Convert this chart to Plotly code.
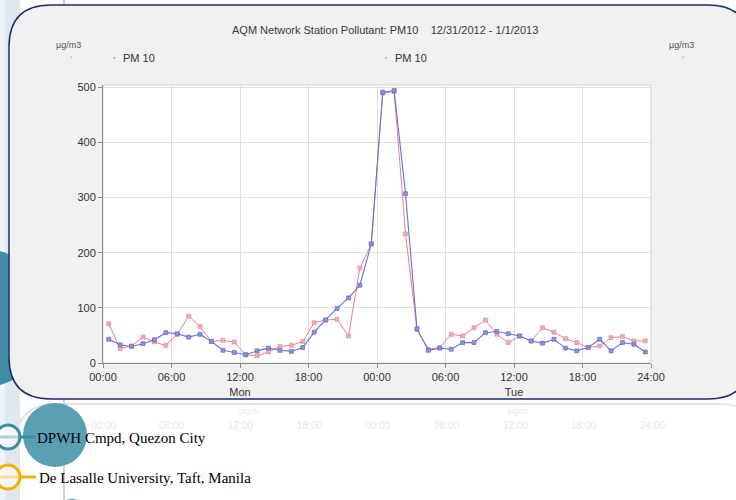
import plotly.graph_objects as go
import pandas as pd

# ---------------- data ----------------
times = pd.date_range("2012-12-31 00:30", periods=48, freq="h")

pm10_station_a = [43, 33, 30, 35, 42, 55, 53, 47, 52, 39, 23, 19, 15, 22, 27, 23,
                  21, 28, 56, 78, 99, 118, 141, 216, 491, 494, 307, 62, 23, 27, 25, 37,
                  37, 55, 57, 53, 49, 40, 36, 43, 27, 22, 28, 43, 22, 37, 34, 20]
pm10_station_b = [71, 26, 31, 47, 38, 32, 52, 85, 66, 39, 41, 38, 15, 13, 20, 30,
                  32, 39, 73, 78, 79, 49, 172, 216, 489, 492, 234, 61, 25, 28, 52, 49,
                  64, 78, 52, 37, 49, 40, 64, 56, 44, 37, 28, 31, 46, 48, 40, 40]

tick_vals = pd.date_range("2012-12-31 00:00", periods=9, freq="6h")
tick_text = ["00:00", "06:00", "12:00<br>Mon", "18:00", "00:00",
             "06:00", "12:00<br>Tue", "18:00", "24:00"]
y_ticks = [0, 100, 200, 300, 400, 500]

title_text = "AQM Network Station Pollutant: PM10    12/31/2012 - 1/1/2013"
unit_text = "µg/m3"
series_name = "PM 10"
site_labels = ["DPWH Cmpd, Quezon City", "De Lasalle University, Taft, Manila"]

# ---------------- geometry helpers ----------------
W, H = 736, 500
L, R, T, B = 103, 85, 85, 137
PW, PH = W - L - R, H - T - B


def px(x):
    return (x - L) / PW


def py(y):
    return (H - B - y) / PH


def pt(x, y):
    return f"{px(x):.5f},{py(y):.5f}"


def rrect(x0, y0, x1, y1, rad):
    return (f"M {pt(x0 + rad, y0)} L {pt(x1 - rad, y0)} Q {pt(x1, y0)} {pt(x1, y0 + rad)} "
            f"L {pt(x1, y1 - rad)} Q {pt(x1, y1)} {pt(x1 - rad, y1)} "
            f"L {pt(x0 + rad, y1)} Q {pt(x0, y1)} {pt(x0, y1 - rad)} "
            f"L {pt(x0, y0 + rad)} Q {pt(x0, y0)} {pt(x0 + rad, y0)} Z")


def prect(x0, y0, x1, y1, **kw):
    return dict(type="rect", xref="paper", yref="paper", layer="below",
                x0=px(x0), x1=px(x1), y0=py(y1), y1=py(y0), **kw)


def pcirc(cx, cy, rx, ry, **kw):
    return dict(type="circle", xref="paper", yref="paper", layer="below",
                x0=px(cx - rx), x1=px(cx + rx), y0=py(cy + ry), y1=py(cy - ry), **kw)


def pline(x0, y0, x1, y1, **kw):
    return dict(type="line", xref="paper", yref="paper", layer="below",
                x0=px(x0), x1=px(x1), y0=py(y0), y1=py(y1), **kw)


# ---------------- figure ----------------
fig = go.Figure()

fig.add_trace(go.Scatter(
    x=times, y=pm10_station_b, mode="lines+markers", name=series_name,
    line=dict(color="#ec7f8a", width=1),
    marker=dict(symbol="square", size=4, color="#f3a9b0",
                line=dict(color="#e58a94", width=0.6)),
    showlegend=False))
fig.add_trace(go.Scatter(
    x=times, y=pm10_station_a, mode="lines+markers", name=series_name,
    line=dict(color="#6c70d6", width=1.1),
    marker=dict(symbol="square", size=4, color="#8c90dc",
                line=dict(color="#5d61c4", width=0.6)),
    showlegend=False))

shapes = [
    prect(0, 0, 5, 500, fillcolor="#eef3f7", line=dict(width=0)),
    prect(5, 0, 20, 500, fillcolor="#dfe7ef", line=dict(width=0)),
    pcirc(-10, 318, 55, 68, fillcolor="#3f8ea6", line=dict(width=0)),
    dict(type="path", xref="paper", yref="paper", layer="below",
         path=rrect(16, 404, 760, 580, 40), fillcolor="rgba(0,0,0,0)",
         line=dict(color="#e4e4e4", width=2)),
    pline(64, 0, 64, 500, line=dict(color="#c9d5e2", width=2)),
    dict(type="path", xref="paper", yref="paper", layer="below",
         path=rrect(9, 5, 750, 399, 42), fillcolor="#f1f1f1",
         line=dict(color="#1c2d6e", width=1.5)),
    prect(L, T, L + PW, T + PH, fillcolor="white",
          line=dict(color="#d4d4d4", width=1)),
    pcirc(55, 435, 32, 32, fillcolor="#5a9fb4", line=dict(width=0)),
    pline(0, 437, 36, 437, line=dict(color="#3b8ea5", width=3)),
    pcirc(8, 437, 12, 12, fillcolor="rgba(255,255,255,0.6)",
          line=dict(color="#3b8ea5", width=3)),
    pline(0, 477, 36, 477, line=dict(color="#f5b100", width=3)),
    pcirc(8, 477, 12, 12, fillcolor="rgba(255,255,255,0.6)",
          line=dict(color="#f5b100", width=3)),
    pcirc(72, 512, 13, 13, fillcolor="#3f8ea6", line=dict(width=0)),
]

FONT = "Liberation Sans, Arial, sans-serif"
ann = []


def add_text(x, y, text, size=11, color="#333", anchor="center", family=FONT):
    ann.append(dict(xref="paper", yref="paper", x=px(x), y=py(y), text=text,
                    showarrow=False, xanchor=anchor, yanchor="middle",
                    font=dict(size=size, color=color, family=family)))


add_text(385, 30, title_text.replace("    ", "&nbsp;&nbsp;&nbsp;&nbsp;"), 11, "#3a3a3a")
add_text(68, 45, unit_text, 9, "#555")
add_text(71, 57, "▪", 6, "#bbbbbb")
add_text(114, 58, "▪", 7, "#9a9ed6")
add_text(121, 58, series_name, 11, "#333", "left")
add_text(386, 58, "▪", 7, "#f2a3aa")
add_text(393, 58, series_name, 11, "#333", "left")
add_text(681, 45, unit_text, 9, "#555")
add_text(683, 57, "▪", 6, "#f2a3aa")

# faint reflection below the panel
for xv, lab in zip([103, 171, 240, 309, 377, 446, 515, 583, 652],
                   ["00:00", "06:00", "12:00", "18:00", "00:00", "06:00", "12:00", "18:00", "24:00"]):
    add_text(xv, 425, lab, 10, "#e8e8e8")
add_text(249, 411, "µg/m", 9, "#ececec")
add_text(518, 411, "µg/m", 9, "#ececec")

add_text(35, 438, site_labels[0], 15, "black", "left", "Liberation Serif, Times New Roman, serif")
add_text(37, 478, site_labels[1], 15, "black", "left", "Liberation Serif, Times New Roman, serif")

fig.update_layout(
    width=W, height=H,
    margin=dict(l=L, r=R, t=T, b=B, pad=0),
    paper_bgcolor="white",
    plot_bgcolor="rgba(0,0,0,0)",
    shapes=shapes,
    annotations=ann,
    font=dict(family=FONT, size=11, color="#333"),
    xaxis=dict(
        type="date",
        range=["2012-12-31 00:00", "2013-01-02 00:00"],
        tickvals=list(tick_vals), ticktext=tick_text,
        showgrid=True, gridcolor="#e0e0e0", gridwidth=1,
        showline=True, linecolor="#8a8a8a", linewidth=1,
        ticks="outside", ticklen=4, tickcolor="#8a8a8a",
        tickfont=dict(size=11, color="#333"),
        zeroline=False,
    ),
    yaxis=dict(
        range=[0, 504],
        tickvals=y_ticks,
        showgrid=True, gridcolor="#e0e0e0", gridwidth=1,
        showline=True, linecolor="#8a8a8a", linewidth=1,
        ticks="outside", ticklen=4, tickcolor="#8a8a8a",
        tickfont=dict(size=11, color="#333"),
        zeroline=False,
    ),
)

fig.write_html("out.html", config={"displayModeBar": False},
               post_script="document.body.style.margin='0';")
